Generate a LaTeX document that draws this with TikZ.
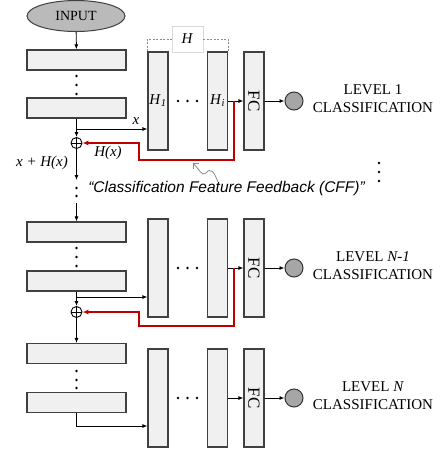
\documentclass[tikz,border=0pt]{standalone}
\usepackage{fontspec}
\setmainfont{Liberation Serif}
\setsansfont{Liberation Sans}
\usepackage{tikz}
\usetikzlibrary{positioning}
\usetikzlibrary{arrows.meta,shapes}
\usetikzlibrary{calc}
\definecolor{cffred}{RGB}{192,0,0}
\tikzstyle{layer}=[rectangle,draw=black!75,fill=black!6,line width=1.2pt,minimum width=99pt,minimum height=20pt,inner sep=0pt]
\tikzstyle{column}=[rectangle,draw=black!75,fill=black!6,line width=1.2pt,minimum width=20pt,minimum height=98pt,inner sep=0pt]
\tikzstyle{sumnode}=[circle,draw,line width=0.9pt,minimum size=11pt,inner sep=0pt,path picture={\draw[line width=0.9pt] (path picture bounding box.north) -- (path picture bounding box.south) (path picture bounding box.west) -- (path picture bounding box.east);}]
\tikzstyle{outnode}=[circle,draw=black!80,fill=black!35,line width=1pt,minimum size=18pt,inner sep=0pt]
\tikzstyle{edge} = [draw,line width=0.9pt,-{Latex[length=5pt,width=4pt]}]
\tikzstyle{feedback} = [draw,cffred,line width=1.8pt,-{Latex[length=6pt,width=5pt]}]
\tikzstyle{bracket} = [draw,black!45,line width=0.8pt,dash pattern=on 2pt off 1.5pt]

\begin{document}
\begin{tikzpicture}[x=1pt,y=-1pt,font=\fontsize{15}{18}\selectfont]
    \useasboundingbox (0,0) rectangle (442,451);
    % Input and the backbone layers
    \node[ellipse,draw=black!75,fill=black!27,line width=1pt,minimum width=98pt,minimum height=31pt,inner sep=0pt,font=\fontsize{14}{16}\selectfont] (input) at (76,16) {INPUT};

    \foreach \pos/\name in {{(76.5,60)/b1}, {(76.5,108)/b2}, {(76.5,232)/b3}, {(76.5,281)/b4}, {(76.5,353.5)/b5}, {(76.5,402.5)/b6}}
        \node[layer] (\name) at \pos {};

    \foreach \y in {76,85,94,188,196,248,257,266,371,380,388}
        \fill (76.5,\y) circle (1.3pt);

    % Classification branches
    \foreach \pos/\name/\label in {{(158,101)/h1/{\textit{H}\textsubscript{\textit{1}}}}, {(217.5,101)/hi1/{\textit{H}\textsubscript{\textit{i}}}}, {(254,101)/fc1/{}},
                                   {(158,268)/h2/{}}, {(217.5,268)/hi2/{}}, {(254,268)/fc2/{}},
                                   {(158,398)/h3/{}}, {(217.5,398)/hi3/{}}, {(254,398)/fc3/{}}}
        \node[column] (\name) at \pos {\label};

    \foreach \name in {fc1, fc2, fc3}
        \node[rotate=-90,inner sep=0pt,font=\fontsize{17}{17}\selectfont] (\name-l) at (\name) {FC};

    \foreach \y in {101,268,398}
        \foreach \x in {178,187.5,197}
            \fill (\x,\y) circle (1.3pt);

    \foreach \g/\y/\lev in {1/101/{1}, 2/268/{\textit{N-1}}, 3/398/{\textit{N}}} {
        \node[outnode] (o\g) at (294,\y) {};
        \node[align=center,inner sep=0pt] (lvl\g) at (373,\y-2) {LEVEL \lev\\CLASSIFICATION};
        \path[edge] (hi\g) -- (fc\g);
        \path[edge] (fc\g) -- (o\g);
    }

    \foreach \y in {163,172,181}
        \fill (379,\y) circle (1.3pt);

    % H bracket over the hidden layers
    \node[draw=black!15,fill=white,minimum width=31pt,minimum height=26pt,inner sep=0pt] (hlab) at (187.5,39) {\textit{H}};
    \draw[bracket] (h1.north west) |- (hlab.west);
    \draw[bracket] (hlab.east) -| (hi1.north east);

    % Skip connections and sums
    \coordinate (t1) at (76.5,129);
    \coordinate (t2) at (76.5,297);
    \coordinate (t3) at (76.5,426);
    \coordinate (d1) at (76.5,180);
    \coordinate (d2) at (76.5,203);
    \node[sumnode] (s1) at (76.5,143) {};
    \node[sumnode] (s2) at (76.5,312) {};

    \path[edge] (input) -- (b1);
    \draw[line width=0.9pt] (b2.south) -- (t1);
    \path[edge] (t1) -- (s1);
    \path[edge] (t1) -- (h1.west |- t1);
    \path[edge] (s1) -- (d1);
    \path[edge] (d2) -- (b3);
    \draw[line width=0.9pt] (b4.south) -- (t2);
    \path[edge] (t2) -- (s2);
    \path[edge] (t2) -- (h2.west |- t2);
    \path[edge] (s2) -- (b5);
    \path[edge] (b6.south) |- (h3.west |- t3);

    % Feedback (CFF)
    \coordinate (r1) at (234,101);
    \coordinate (r2) at (234,268);
    \path[feedback] (r1) |- (139,160) |- (s1.east);
    \path[feedback] (r2) |- (139,326) |- (s2.east);

    \node (xlab) at (136,121) {\textit{x}};
    \node (hxlab) at (108,153) {\textit{H(x)}};
    \node (sumlab) at (42,163) {\textit{x + H(x)}};

    \coordinate (sqa) at (218,182);
    \coordinate (sqb) at (193,163);
    \draw[black!45,line width=0.8pt,-{Straight Barb[length=4pt]}] (sqa) .. controls (214,172) and (211,167) .. (206,173) .. controls (202,177) and (199,169) .. (sqb);
    \node[font=\sffamily\itshape\fontsize{15.5}{18}\selectfont] (cff) at (226.5,188) {“Classification Feature Feedback (CFF)”};
\end{tikzpicture}
\end{document}
